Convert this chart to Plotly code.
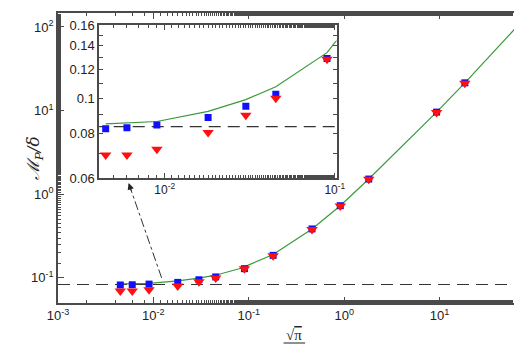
import numpy as np
import plotly.graph_objects as go

# ---------------- data ----------------
x_pts = [0.0045, 0.006, 0.009, 0.018, 0.030, 0.045, 0.09, 0.18, 0.46, 0.91, 1.81, 9.3, 18.4]
blue_sq = [0.0823, 0.0828, 0.0843, 0.0884, 0.0950, 0.1027, 0.129, 0.186, 0.385, 0.73, 1.52, 9.6, 21.5]
red_tri = [0.0695, 0.0695, 0.0722, 0.0803, 0.0897, 0.1000, 0.1285, 0.184, 0.380, 0.725, 1.51, 9.5, 21.3]

x_model = [0.0045, 0.006, 0.009, 0.018, 0.030, 0.045, 0.09, 0.10, 0.18, 0.46, 0.91, 1.81, 9.3, 18.4, 60.0, 100.0]
y_model = [0.0849, 0.0855, 0.0862, 0.0920, 0.0992, 0.1077, 0.134, 0.143, 0.190, 0.385, 0.73, 1.52, 9.6, 21.5, 92.0, 160.0]

asymptote = 0.0834
x_asym = [0.001, 100.0]
x_asym_inset = [0.003, 0.12]

arrow_tail = (0.0122, 0.100)
arrow_head = (0.0055, 1.36)

main_xtick = [1e-3, 1e-2, 1e-1, 1e0, 1e1]
main_xtext = ["10<sup>-3</sup>", "10<sup>-2</sup>", "10<sup>-1</sup>", "10<sup>0</sup>", "10<sup>1</sup>"]
main_ytick = [1e-1, 1e0, 1e1, 1e2]
main_ytext = ["10<sup>-1</sup>", "10<sup>0</sup>", "10<sup>1</sup>", "10<sup>2</sup>"]
inset_xtick = [1e-2, 1e-1]
inset_xtext = ["10<sup>-2</sup>", "10<sup>-1</sup>"]
inset_ytick = [0.06, 0.08, 0.10, 0.12, 0.14, 0.16]
inset_ytext = ["0.06", "0.08", "0.1", "0.12", "0.14", "0.16"]
inset_yminor = [0.07, 0.09, 0.11, 0.13, 0.15]

# ---------------- style ----------------
BLUE = "#1010ff"
RED = "#ff1010"
GREEN = "#3a9a3a"
AX = "#4a4a4a"
FONT = "Liberation Sans"

W, H = 523, 346
L, R, T, B = 58, 0, 13, 43
pw, ph = W - L - R, H - T - B

def px_x(p):
    return (p - L) / pw

def px_y(p):
    return (H - B - p) / ph

fig = go.Figure()

def add_set(xa, ya, xd):
    fig.add_trace(go.Scatter(x=xd, y=[asymptote] * len(xd), mode="lines",
                             line=dict(color="#333333", width=1.2, dash="12px,7px"),
                             xaxis=xa, yaxis=ya, showlegend=False, hoverinfo="skip"))
    fig.add_trace(go.Scatter(x=x_model, y=y_model, mode="lines",
                             line=dict(color=GREEN, width=1.2),
                             xaxis=xa, yaxis=ya, showlegend=False))
    fig.add_trace(go.Scatter(x=x_pts, y=blue_sq, mode="markers",
                             marker=dict(symbol="square", size=7, color=BLUE),
                             xaxis=xa, yaxis=ya, showlegend=False))
    fig.add_trace(go.Scatter(x=x_pts, y=red_tri, mode="markers",
                             marker=dict(symbol="triangle-down", size=10, color=RED),
                             xaxis=xa, yaxis=ya, showlegend=False))

add_set("x", "y", x_asym)
add_set("x2", "y2", x_asym_inset)

# arrow (dash-dot line + head)
fig.add_trace(go.Scatter(x=[arrow_tail[0], arrow_head[0]], y=[arrow_tail[1], arrow_head[1]],
                         mode="lines", line=dict(color="#333333", width=1, dash="dashdot"),
                         xaxis="x", yaxis="y", showlegend=False, hoverinfo="skip"))
fig.add_annotation(x=np.log10(arrow_head[0]), y=np.log10(arrow_head[1]), xref="x", yref="y",
                   ax=3.3, ay=9.5, showarrow=True, arrowhead=2, arrowsize=1.3,
                   arrowwidth=1, arrowcolor="#222222", text="")

tickfont = dict(family=FONT, size=13, color="#222222")
common = dict(type="log", showgrid=False, zeroline=False, showline=True,
              linecolor=AX, linewidth=1.6, ticks="inside", tickcolor=AX,
              tickwidth=1, tickfont=tickfont)

fig.update_layout(
    width=W, height=H, margin=dict(l=L, r=R, t=T, b=B),
    paper_bgcolor="white", plot_bgcolor="white", showlegend=False,
    xaxis=dict(**common, range=[-3, 1.78], tickvals=main_xtick, ticktext=main_xtext,
               ticklen=6, mirror="ticks", minor=dict(ticks="inside", ticklen=3, tickcolor=AX),
               domain=[0, 1]),
    yaxis=dict(**common, range=[-1.3, 2.167], tickvals=main_ytick, ticktext=main_ytext,
               ticklen=6, minor=dict(ticks="inside", ticklen=3, tickcolor=AX), domain=[0, 1]),
    xaxis2=dict(**common, range=[-2.385, -0.99], tickvals=inset_xtick, ticktext=inset_xtext,
                ticklen=5, mirror="ticks", anchor="y2",
                minor=dict(ticks="inside", ticklen=3, tickcolor=AX),
                domain=[px_x(100), px_x(342)]),
    yaxis2=dict(**common, range=[np.log10(0.06), np.log10(0.16)], tickvals=inset_ytick,
                ticktext=inset_ytext, ticklen=4, mirror="ticks", anchor="x2",
                minor=dict(ticks="inside", ticklen=4, tickcolor=AX, tickvals=inset_yminor),
                domain=[px_y(178), px_y(25)]),
)
fig.update_layout(xaxis2_tickfont=dict(family=FONT, size=12, color="#222222"),
                  yaxis2_tickfont=dict(family=FONT, size=13, color="#222222"))

# white background for inset
fig.add_shape(type="rect", xref="paper", yref="paper", x0=px_x(100), x1=px_x(342),
              y0=px_y(178), y1=px_y(25), fillcolor="white", line_width=0, layer="below")

# axis titles
fig.add_annotation(xref="paper", yref="paper", x=px_x(20), y=0.5, showarrow=False,
                   text="<i>ℳ</i><sub><i>P</i></sub><i>/δ</i>", textangle=-90,
                   font=dict(family="DejaVu Serif", size=17, color="#222222"))
fig.add_annotation(xref="paper", yref="paper", x=px_x(299), y=px_y(335), showarrow=False,
                   xanchor="center", yanchor="middle",
                   text="√<span style='text-decoration:overline'>π</span>",
                   font=dict(family="Liberation Serif", size=15, color="#222222"))
fig.add_shape(type="line", xref="paper", yref="paper", x0=px_x(288), x1=px_x(310),
              y0=px_y(343), y1=px_y(343), line=dict(color="#222222", width=1))

fig.write_html("out.html")
